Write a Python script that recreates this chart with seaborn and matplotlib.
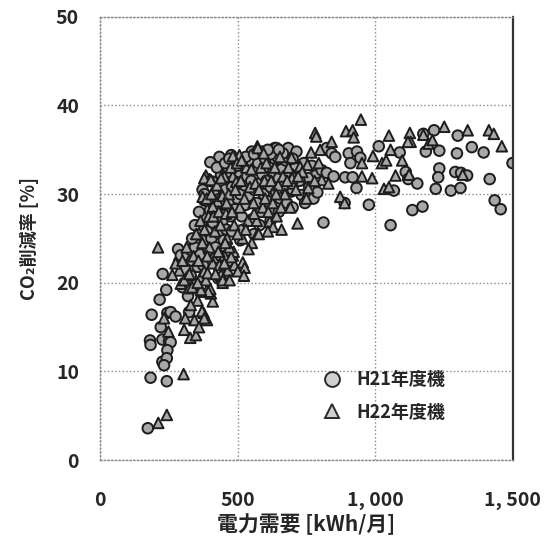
import pandas as pd
import seaborn as sns
import matplotlib.pyplot as plt

# H21年度機 (circles)
h21_x = [174, 184, 243, 182, 184, 227, 251, 257, 245, 227, 243, 233, 221, 188, 217, 228, 241, 245, 257, 275,
         324, 284, 288, 294, 318, 330,
         434, 401, 446, 440, 410, 471, 477, 373, 379, 398, 552, 635,
         641, 684, 714, 586, 611, 635, 660, 684, 721, 757, 788, 806, 824, 849, 733, 757, 776, 696, 812, 824,
         842, 855, 889, 904, 934, 946, 910, 932, 891, 918, 977,
         1013, 1089, 1175, 1184, 1214, 1233, 1300, 1297, 1351, 1394, 1499, 1111, 1120, 1153, 1068, 1233, 1229,
         1291, 1312, 1334, 1416, 1220, 1275, 1310, 1434, 1456, 1135, 1172, 1056,
         300, 310, 320, 330, 335, 345, 350, 355, 360, 365, 370, 375, 380, 385, 390, 395, 400, 345, 360, 335,
         405, 410, 415, 420, 425, 430, 435, 440, 445, 450, 455, 460, 465, 470, 475, 480, 485, 490, 495, 500,
         420, 450, 480, 415,
         505, 510, 515, 520, 525, 530, 535, 540, 545, 550, 555, 560, 565, 570, 575, 580, 585, 590, 595, 600,
         520, 560,
         605, 610, 615, 620, 625, 630, 640, 645, 650, 655, 660, 670, 675, 680, 690, 700, 620, 665,
         710, 725, 740, 760, 770, 790, 745,
         380, 395, 425, 455, 470, 500, 530, 560, 590, 610, 650, 700, 620, 470, 440, 510, 580, 650, 700, 430]
h21_y = [3.6, 9.3, 8.9, 13.5, 13.0, 13.6, 13.4, 13.3, 12.4, 11.1, 11.5, 10.7, 15.0, 16.4, 18.1, 21.0, 19.2, 16.6, 16.7, 16.2,
         16.7, 23.8, 22.4, 23.1, 23.1, 23.7,
         34.2, 33.6, 32.8, 32.2, 31.4, 31.0, 34.4, 30.5, 29.3, 29.0, 34.8, 35.2,
         35.2, 35.2, 34.8, 33.5, 33.7, 33.9, 33.9, 33.5, 31.8, 31.8, 32.4, 32.7, 32.4, 32.0, 29.9, 29.7, 29.5, 30.3, 26.8, 35.2,
         34.6, 34.2, 29.0, 34.6, 34.8, 34.1, 33.5, 30.7, 31.9, 31.9, 28.8,
         35.4, 34.7, 36.8, 34.8, 37.2, 34.9, 36.6, 34.6, 35.3, 34.7, 33.5, 32.5, 31.7, 31.2, 30.4, 32.9, 31.9,
         32.5, 32.4, 32.1, 31.7, 30.6, 30.4, 30.7, 29.3, 28.3, 28.2, 28.6, 26.5,
         19.5, 21.5, 18.5, 20.8, 22.5, 24.0, 19.8, 21.8, 25.5, 23.2, 26.5, 22.0, 24.8, 27.5, 25.8, 23.6, 28.2, 26.5, 28.0, 25.0,
         25.0, 26.8, 30.0, 24.0, 27.8, 29.4, 25.5, 31.0, 27.0, 28.8, 30.5, 26.0, 32.5, 29.0, 27.5, 30.8, 33.0, 28.3, 31.8, 29.5,
         22.8, 24.8, 25.8, 28.5,
         32.5, 30.0, 27.5, 33.2, 31.0, 28.8, 32.0, 29.8, 33.8, 31.5, 27.2, 30.5, 32.8, 29.0, 33.5, 31.2, 28.0, 32.2, 30.0, 34.0,
         26.0, 25.5,
         31.5, 29.2, 33.0, 30.8, 28.0, 32.5, 30.2, 34.2, 31.8, 29.5, 32.8, 31.0, 33.8, 29.0, 32.2, 30.5, 34.5, 34.6,
         33.0, 31.5, 33.5, 30.8, 33.2, 30.2, 29.0,
         30.0, 31.5, 33.0, 33.5, 34.0, 33.2, 34.2, 34.5, 34.8, 35.0, 35.0, 34.0, 27.0, 22.5, 23.0, 24.8, 26.5, 28.0, 28.5, 20.5]

# H22年度機 (triangles)
h22_x = [212, 243, 304, 211, 249, 233, 306, 328, 349, 377, 389, 410, 370, 391, 403, 343, 443, 446, 452, 465,
         489, 519, 526, 501, 523, 483, 486, 367, 379, 401, 394, 371, 379, 367, 324, 294, 306, 288, 275, 263,
         452, 477, 434, 410, 434, 452, 440, 446, 471, 385, 391,
         385, 398, 483, 495, 428, 410, 379, 403, 373, 507, 483, 572, 574, 654, 696, 754, 727, 702, 702, 757,
         806, 830, 782, 786, 800, 767, 574, 617, 629, 660, 577, 718,
         948, 894, 918, 922, 842, 1050, 1056, 1098, 1025, 1040, 992, 1126, 1129, 1119, 1175, 1194, 1208, 1251,
         1336, 1413, 1431, 1460, 1123, 1074, 989, 952, 1032, 1050, 1318, 873, 889, 952,
         300, 315, 325, 340, 350, 358, 365, 372, 380, 388, 395, 398, 335, 355,
         405, 412, 418, 425, 432, 438, 445, 452, 458, 462, 468, 475, 480, 488, 492, 498, 430, 470,
         508, 512, 518, 525, 532, 538, 545, 552, 558, 565, 570, 578, 585, 592, 598, 540,
         605, 612, 622, 628, 635, 642, 648, 658, 665, 672, 685, 692, 698,
         712, 735, 750, 780, 795,
         390, 420, 455, 500, 530, 560, 600, 640, 680, 720, 460, 440, 515, 595, 550, 610, 355, 330, 310, 360]
h22_y = [4.2, 5.1, 9.7, 24.0, 14.5, 16.0, 14.7, 13.8, 14.1, 16.6, 15.8, 17.9, 19.0, 19.3, 18.8, 15.8, 20.7, 20.0, 21.1, 21.4,
         22.0, 22.3, 21.7, 21.3, 20.8, 23.1, 23.5, 20.7, 21.3, 19.3, 19.0, 16.8, 16.0, 19.2, 19.4, 19.9, 20.3, 21.4, 22.2, 20.9,
         23.1, 22.9, 23.5, 22.2, 22.0, 22.2, 20.9, 20.3, 20.3, 20.3, 21.1,
         32.1, 31.7, 32.0, 31.4, 29.2, 28.6, 31.8, 31.6, 29.7, 34.4, 34.3, 35.4, 35.2, 34.2, 34.1, 33.3, 33.1, 32.2, 31.2, 30.7,
         31.6, 31.2, 36.9, 36.5, 35.0, 34.7, 25.6, 26.9, 26.3, 26.0, 25.5, 26.7,
         38.4, 37.1, 37.2, 36.4, 35.9, 36.6, 35.0, 33.8, 33.5, 33.8, 34.3, 36.9, 35.9, 35.9, 36.7, 35.7, 36.1, 37.6,
         37.2, 37.2, 36.8, 35.4, 32.2, 32.1, 31.8, 32.0, 30.6, 30.8, 32.2, 29.7, 29.0, 33.5,
         22.5, 24.0, 21.0, 23.0, 25.5, 22.5, 27.0, 24.5, 26.0, 29.5, 27.5, 24.0, 19.5, 18.0,
         30.0, 27.5, 25.8, 31.0, 28.0, 26.5, 29.8, 32.0, 27.8, 25.0, 30.0, 33.0, 28.0, 26.5, 30.5, 33.5, 23.5, 24.0,
         28.5, 31.5, 25.0, 29.5, 33.0, 27.0, 30.8, 24.5, 29.0, 31.2, 27.0, 30.5, 33.0, 28.5, 31.5, 23.8,
         33.5, 28.0, 31.5, 29.0, 33.0, 27.5, 31.0, 28.5, 32.0, 30.0, 33.0, 28.5, 31.8,
         30.5, 32.5, 29.5, 31.5, 33.5,
         23.0, 21.0, 24.5, 25.5, 26.0, 27.8, 29.5, 30.0, 31.5, 32.0, 29.0, 31.8, 33.8, 34.6, 32.8, 25.8, 20.0, 17.5, 16.0, 15.0]

x_ticks = [0, 500, 1000, 1500]
x_ticklabels = ["0", "500", "1, 000", "1, 500"]
y_ticks = [0, 10, 20, 30, 40, 50]

df = pd.concat([
    pd.DataFrame({"demand": h21_x, "rate": h21_y, "機種": "H21年度機"}),
    pd.DataFrame({"demand": h22_x, "rate": h22_y, "機種": "H22年度機"}),
])

sns.set_theme(style="white")
plt.rcParams['font.family'] = ['Noto Sans CJK JP', 'DejaVu Sans']
plt.rcParams['font.weight'] = 'bold'

fig = plt.figure(figsize=(5.52, 5.42), dpi=100)
ax = fig.add_axes([0.181, 0.151, 0.748, 0.818])

sns.scatterplot(data=df, x="demand", y="rate", style="機種",
                markers={"H21年度機": "o", "H22年度機": "^"},
                color="#a8a8a8", edgecolor="#1c1c1c", linewidth=1.4, s=58, ax=ax)

ax.set_xlim(0, 1500)
ax.set_ylim(0, 50)
ax.set_xticks(x_ticks)
ax.set_xticklabels(x_ticklabels)
ax.set_yticks(y_ticks)
ax.tick_params(axis='both', length=0, labelsize=14)
ax.tick_params(axis='x', pad=22)
ax.tick_params(axis='y', pad=15)
ax.grid(True, linestyle=':', color='#888888', linewidth=1.0)

for side in ['left', 'top', 'bottom']:
    ax.spines[side].set_linestyle(':')
    ax.spines[side].set_color('#888888')
    ax.spines[side].set_linewidth(1.0)
ax.spines['right'].set_color('#333333')
ax.spines['right'].set_linewidth(1.6)

ax.set_xlabel("電力需要 [kWh/月]", fontsize=15, fontweight='bold', labelpad=3)
ax.set_ylabel("CO₂削減率 [%]", fontsize=13, fontweight='bold', labelpad=12)

leg = ax.legend(loc='center left', bbox_to_anchor=(0.48, 0.145), frameon=False,
                fontsize=13, markerscale=1.4, labelspacing=0.75, handletextpad=0.3)
for h in leg.legend_handles:
    h.set_markerfacecolor('#d0d0d0')
    h.set_markeredgecolor('#2a2a2a')

fig.savefig("out.png", dpi=100)
